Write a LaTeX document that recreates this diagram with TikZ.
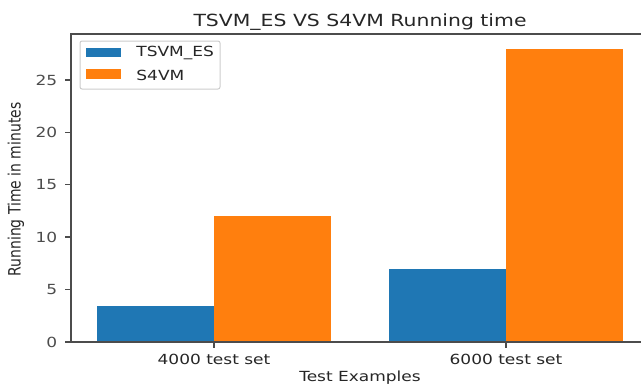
\documentclass[tikz,border=0pt]{standalone}
\usepackage{fontspec}
\setmainfont{DejaVu Sans}
\usepackage{graphicx}
\usetikzlibrary{positioning}
\definecolor{tsvmblue}{HTML}{1F77B4}
\definecolor{svmorange}{HTML}{FF7F0E}
\newcommand{\squash}[1]{\scalebox{1}[0.82]{#1}}

\begin{document}
\begin{tikzpicture}[x=146pt, y=5.24pt, font=\fontsize{8.5}{10}\selectfont, text=black!85,
    spine/.style={line width=0.7pt, black!70},
    ytick/.style={anchor=east, inner sep=0pt, xshift=-3.5pt},
    xtick/.style={anchor=base, inner sep=0pt}] % one x unit = one category
        \clip (-0.733,-4.103) rectangle (1.4623,32.634);
        \path
        (-0.49,0) coordinate (o)
        (1.49,0) coordinate (xr)
        (-0.49,29.4) coordinate (yt)
        (1.49,29.4) coordinate (tr)
        ;

        % bars
        \fill[tsvmblue] (-0.4,0) rectangle (0,3.4);
        \fill[svmorange] (0,0) rectangle (0.4,12);
        \fill[tsvmblue] (0.6,0) rectangle (1,7);
        \fill[svmorange] (1,0) rectangle (1.4,28);

        % spines
        \draw[spine] (yt) -- (o) -- (xr) -- (tr) -- cycle;

        % y ticks
        \draw[spine] (-0.49,0) -- ++(-3pt,0) node[ytick] (y0) {\squash{0}};
        \draw[spine] (-0.49,5) -- ++(-3pt,0) node[ytick] (y5) {\squash{5}};
        \draw[spine] (-0.49,10) -- ++(-3pt,0) node[ytick] (y10) {\squash{10}};
        \draw[spine] (-0.49,15) -- ++(-3pt,0) node[ytick] (y15) {\squash{15}};
        \draw[spine] (-0.49,20) -- ++(-3pt,0) node[ytick] (y20) {\squash{20}};
        \draw[spine] (-0.49,25) -- ++(-3pt,0) node[ytick] (y25) {\squash{25}};

        % x ticks
        \draw[spine] (0,0) -- ++(0,-3pt);
        \draw[spine] (1,0) -- ++(0,-3pt);
        \draw
        (0,-2.19) node[xtick] (x4000) {\squash{4000 test set}}
        (1,-2.19) node[xtick] (x6000) {\squash{6000 test set}}
        (0.5,-2.77) node[anchor=north, inner sep=0pt] (xlab) {\squash{Test Examples}}
        (-0.678,14.55) node[rotate=90, inner sep=0pt] (ylab) {\scalebox{0.82}[1]{Running Time in minutes}}
        (0.5,30.15) node[anchor=base, inner sep=0pt, font=\fontsize{10.2}{12}\selectfont] (title) {\squash{TSVM\_ES VS S4VM Running time}}
        ;

        % legend
        \draw[black!20, fill=white, rounded corners=1pt, line width=0.5pt] (-0.4589,24.14) rectangle (0.0205,28.72);
        \fill[tsvmblue] (-0.4384,27.19) rectangle (-0.3185,28.05);
        \fill[svmorange] (-0.4384,25.10) rectangle (-0.3185,26.05);
        \draw
        (-0.2671,27.22) node[anchor=base west, inner sep=0pt] (leg1) {\squash{TSVM\_ES}}
        (-0.2671,24.95) node[anchor=base west, inner sep=0pt] (leg2) {\squash{S4VM}}
        ;
\end{tikzpicture}
\end{document}
